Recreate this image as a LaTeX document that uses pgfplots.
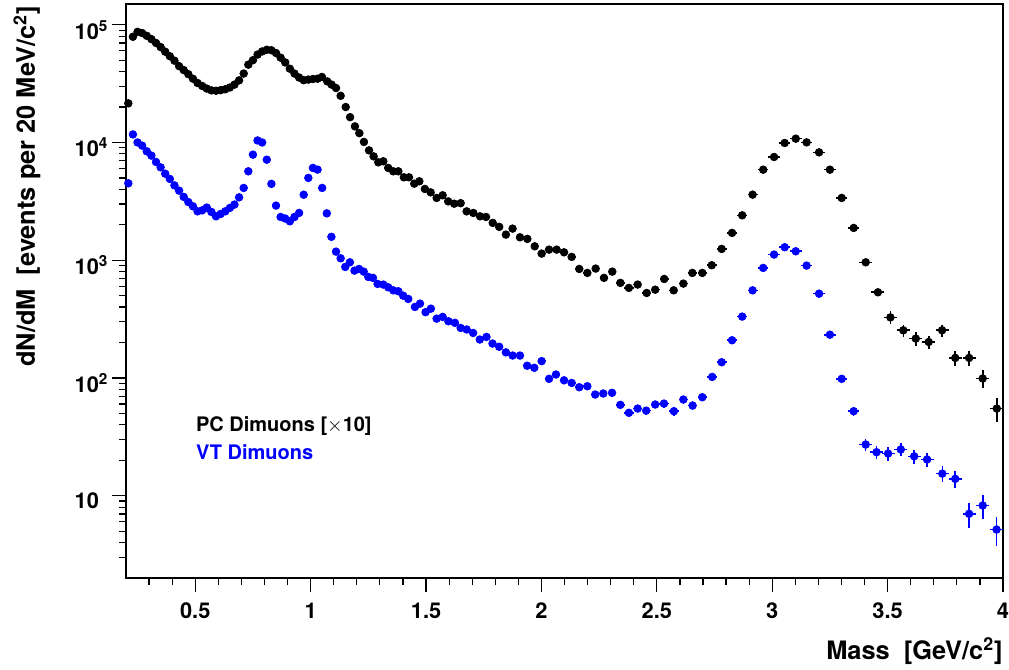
\documentclass[border=0pt]{standalone}
\usepackage{fontspec}
\setmainfont{TeX Gyre Heros}
\usepackage{pgfplots}
\usepackage{pgfplotstable}
\pgfplotsset{compat=1.18}
\usetikzlibrary{calc}

% PC dimuons (scaled x10): mass, dN/dM, half bin width, error
\pgfplotstableread{
x y ex ey
0.21 21500 0.01 0
0.23 79000 0.01 0
0.25 87000 0.01 0
0.27 85000 0.01 0
0.29 80500 0.01 0
0.31 75500 0.01 0
0.33 70000 0.01 0
0.35 64600 0.01 0
0.37 59000 0.01 0
0.39 54000 0.01 0
0.41 49500 0.01 0
0.43 44500 0.01 0
0.45 41200 0.01 0
0.47 38000 0.01 0
0.49 34800 0.01 0
0.51 32000 0.01 0
0.53 30200 0.01 0
0.55 28700 0.01 0
0.57 27700 0.01 0
0.59 27500 0.01 0
0.61 27800 0.01 0
0.63 28300 0.01 0
0.65 29300 0.01 0
0.67 31000 0.01 0
0.69 33700 0.01 0
0.71 38500 0.01 0
0.73 45800 0.01 0
0.75 50000 0.01 0
0.77 55800 0.01 0
0.79 59300 0.01 0
0.81 61300 0.01 0
0.83 60700 0.01 0
0.85 57500 0.01 0
0.87 52500 0.01 0
0.89 47800 0.01 0
0.91 42300 0.01 0
0.93 38500 0.01 0
0.95 35600 0.01 0
0.97 33800 0.01 0
0.99 34200 0.01 0
1.01 34600 0.01 0
1.03 34800 0.01 0
1.049 36000 0.0105 0
1.072 33000 0.0105 0
1.091 31000 0.0105 0
1.110 29000 0.0105 0
1.130 24900 0.0105 0
1.152 20000 0.0105 0
1.171 16400 0.0105 0
1.192 13700 0.0105 0
1.211 12000 0.0105 0
1.231 10100 0.0105 0
1.253 8570 0.0105 0
1.273 7620 0.0105 0
1.293 6780 0.0105 0
1.315 6920 0.0105 0
1.336 6080 0.0105 0
1.358 5690 0.0105 0
1.380 5690 0.0105 0
1.404 5060 0.0125 0
1.426 5060 0.0125 0
1.449 4470 0.0125 0
1.471 4680 0.0125 0
1.495 4030 0.0125 0
1.520 3770 0.0125 0
1.546 3380 0.0125 0
1.572 3560 0.0125 0
1.596 3160 0.0125 0
1.622 3020 0.0125 0
1.650 3050 0.0125 0
1.676 2600 0.015 0
1.705 2520 0.015 0
1.734 2360 0.015 0
1.760 2330 0.015 0
1.789 2075 0.015 0
1.817 1920 0.015 0
1.846 1650 0.015 0
1.875 1855 0.015 0
1.907 1565 0.015 0
1.939 1517 0.015 0
1.971 1313 0.015 0
2.001 1138 0.017 0
2.033 1230 0.017 0
2.066 1230 0.017 0
2.098 1167 0.017 0
2.131 1067 0.017 0
2.164 843 0.017 0
2.199 780 0.017 0
2.235 849 0.017 0
2.271 708 0.017 0
2.307 800 0.017 20
2.342 642 0.02 20
2.379 582 0.02 20
2.417 621 0.02 20
2.456 527 0.02 20
2.493 562 0.02 20
2.532 693 0.02 22
2.573 555 0.02 20
2.615 633 0.02 22
2.654 780 0.02 25
2.697 780 0.02 25
2.738 906 0.022 27
2.781 1247 0.022 30
2.826 1706 0.022 35
2.870 2405 0.022 40
2.915 3605 0.022 50
2.961 5875 0.022 60
3.008 7530 0.025 70
3.054 9900 0.025 80
3.102 10770 0.025 85
3.149 10020 0.025 80
3.203 8240 0.025 75
3.250 5875 0.025 60
3.301 3380 0.025 50
3.353 1880 0.025 40
3.405 960 0.028 38
3.458 534 0.028 30
3.512 327 0.028 40
3.568 254 0.028 30
3.622 216 0.028 28
3.678 202 0.028 27
3.736 254 0.028 30
3.793 148 0.028 21
3.853 148 0.028 21
3.912 99 0.028 17
3.973 55 0.028 13
}\pcdata

% VT dimuons
\pgfplotstableread{
x y ex ey
0.21 4500 0.01 0
0.23 11700 0.01 0
0.25 10000 0.01 0
0.27 9400 0.01 0
0.29 8410 0.01 0
0.31 7730 0.01 0
0.33 6830 0.01 0
0.35 6150 0.01 0
0.37 5430 0.01 0
0.39 4900 0.01 0
0.41 4320 0.01 0
0.43 3900 0.01 0
0.45 3450 0.01 0
0.47 3120 0.01 0
0.49 2870 0.01 0
0.51 2600 0.01 0
0.53 2650 0.01 0
0.55 2800 0.01 0
0.57 2570 0.01 0
0.59 2360 0.01 0
0.61 2470 0.01 0
0.63 2600 0.01 0
0.65 2780 0.01 0
0.67 2970 0.01 0
0.69 3420 0.01 0
0.71 4110 0.01 0
0.73 5690 0.01 0
0.75 7880 0.01 0
0.77 10400 0.01 0
0.79 10000 0.01 0
0.81 7140 0.01 0
0.83 4450 0.01 0
0.85 2910 0.01 0
0.87 2330 0.01 0
0.89 2260 0.01 0
0.91 2140 0.01 0
0.93 2330 0.01 0
0.95 2520 0.01 0
0.97 3600 0.01 0
0.99 5000 0.01 0
1.01 6080 0.01 0
1.03 5880 0.01 0
1.05 4110 0.01 0
1.07 2500 0.01 0
1.09 1580 0.01 0
1.11 1183 0.01 0
1.13 1038 0.01 0
1.15 877 0.01 0
1.17 960 0.01 0
1.19 816 0.01 0
1.21 843 0.01 0
1.23 800 0.01 0
1.25 721 0.01 0
1.27 708 0.01 0
1.29 629 0.0105 0
1.315 621 0.0105 0
1.336 589 0.0105 0
1.358 555 0.0105 0
1.380 545 0.0105 0
1.401 500 0.0125 0
1.423 469 0.0125 0
1.452 401 0.0125 0
1.474 428 0.0125 0
1.498 362 0.0125 0
1.521 388 0.0125 0
1.546 319 0.0125 0
1.572 330 0.0125 0
1.597 303 0.0125 0
1.625 294 0.0125 0
1.650 266 0.0125 0
1.676 258 0.015 0
1.704 241 0.015 0
1.733 212 0.015 0
1.762 223 0.015 0
1.788 196 0.015 0
1.817 184 0.015 0
1.846 165 0.015 0
1.875 155 0.015 0
1.907 155 0.015 0
1.938 127 0.015 0
1.969 122 0.015 0
2.001 139 0.017 0
2.033 98.3 0.017 0
2.063 107 0.017 0
2.098 95.5 0.017 0
2.131 90.7 0.017 0
2.164 83.4 0.017 0
2.199 85.0 0.017 0
2.233 72.3 0.017 4
2.268 73.8 0.017 4
2.306 74.8 0.017 4
2.342 59.1 0.02 4
2.379 50.6 0.02 4
2.417 55.0 0.02 4
2.454 52.8 0.02 4
2.493 59.5 0.02 4
2.531 60.6 0.02 4.5
2.574 52.2 0.02 4.5
2.615 65.6 0.02 5
2.655 58.3 0.02 5
2.697 68.6 0.02 5
2.740 102 0.022 6
2.781 136 0.022 7
2.826 209 0.022 9
2.870 332 0.022 11
2.915 555 0.022 14
2.961 860 0.022 17
3.008 1117 0.025 20
3.054 1289 0.025 21
3.102 1191 0.025 20
3.149 900 0.025 18
3.203 520 0.025 14
3.250 233 0.025 12
3.301 98.3 0.025 7
3.353 52.2 0.025 4.7
3.405 27.2 0.028 3.3
3.452 23.4 0.028 3.0
3.502 22.8 0.028 2.9
3.557 24.7 0.028 3.1
3.615 21.6 0.028 2.9
3.671 20.3 0.028 2.8
3.737 15.4 0.028 2.4
3.793 13.9 0.028 2.3
3.853 7.02 0.028 1.7
3.912 8.26 0.028 1.9
3.972 5.16 0.028 1.4
}\vtdata

\definecolor{vtblue}{RGB}{0,0,255}

\begin{document}
\begin{tikzpicture}
\begin{axis}[
  scale only axis,
  width=438.5pt,height=287pt,
  xmin=0.2,xmax=4,
  ymode=log,ymin=2,ymax=150000,
  axis line style={line width=1pt},
  tick align=outside,
  xtick pos=bottom,ytick pos=left,
  major tick length=7pt,minor tick length=3.5pt,
  tick style={line width=0.6pt,black},
  xtick={0.5,1,1.5,2,2.5,3,3.5,4},
  xticklabels={0.5,1,1.5,2,2.5,3,3.5,4},
  minor xtick={0.3,0.4,0.6,0.7,0.8,0.9,1.1,1.2,1.3,1.4,1.6,1.7,1.8,1.9,2.1,2.2,2.3,2.4,2.6,2.7,2.8,2.9,3.1,3.2,3.3,3.4,3.6,3.7,3.8,3.9},
  ytick={10,100,1000,10000,100000},
  yticklabels={10,10\rlap{\textsuperscript{2}},10\rlap{\textsuperscript{3}},10\rlap{\textsuperscript{4}},10\rlap{\textsuperscript{5}}},
  minor ytick={3,4,5,6,7,8,9,20,30,40,50,60,70,80,90,200,300,400,500,600,700,800,900,2000,3000,4000,5000,6000,7000,8000,9000,20000,30000,40000,50000,60000,70000,80000,90000},
  ticklabel style={font=\fontsize{10.9}{13}\selectfont\bfseries},
  xticklabel style={anchor=north,yshift=-2pt},
  yticklabel style={anchor=east,xshift=-3pt,yshift=-2.5pt},
  clip=true,
]
\addplot[only marks,mark=*,mark size=1.9pt,black,
  error bars/.cd,x dir=both,x explicit,y dir=both,y explicit,
  error mark=none,error bar style={line width=0.8pt,black}]
  table[x=x,y=y,x error=ex,y error=ey] {\pcdata};
\addplot[only marks,mark=*,mark size=1.9pt,vtblue,mark options={fill=vtblue,draw=vtblue},
  error bars/.cd,x dir=both,x explicit,y dir=both,y explicit,
  error mark=none,error bar style={line width=0.8pt,vtblue}]
  table[x=x,y=y,x error=ex,y error=ey] {\vtdata};
\node[anchor=base west,font=\fontsize{10}{12}\selectfont\bfseries,black] at (axis cs:0.473,35.3) {PC Dimuons [\(\times\)10]};
\node[anchor=base west,font=\fontsize{10}{12}\selectfont\bfseries,text=vtblue] at (axis cs:0.473,20.3) {VT Dimuons};
\coordinate (sw) at (rel axis cs:0,0);
\coordinate (ne) at (rel axis cs:1,1);
\end{axis}
\node[anchor=base east,inner sep=0pt,font=\fontsize{12.7}{15}\selectfont\bfseries] at ($(sw -| ne)+(0,-40.5pt)$) {Mass\ \ [GeV/c\textsuperscript{2}]};
\node[anchor=base east,rotate=90,inner sep=0pt,font=\fontsize{12.7}{15}\selectfont\bfseries] at ($(sw |- ne)+(-45.5pt,-1pt)$) {dN/dM\ \ [events per 20 MeV/c\textsuperscript{2}]};
\pgfresetboundingbox
\path[use as bounding box] ($(sw)+(-63pt,-45.5pt)$) rectangle ($(ne)+(3pt,2pt)$);
\end{tikzpicture}
\end{document}
